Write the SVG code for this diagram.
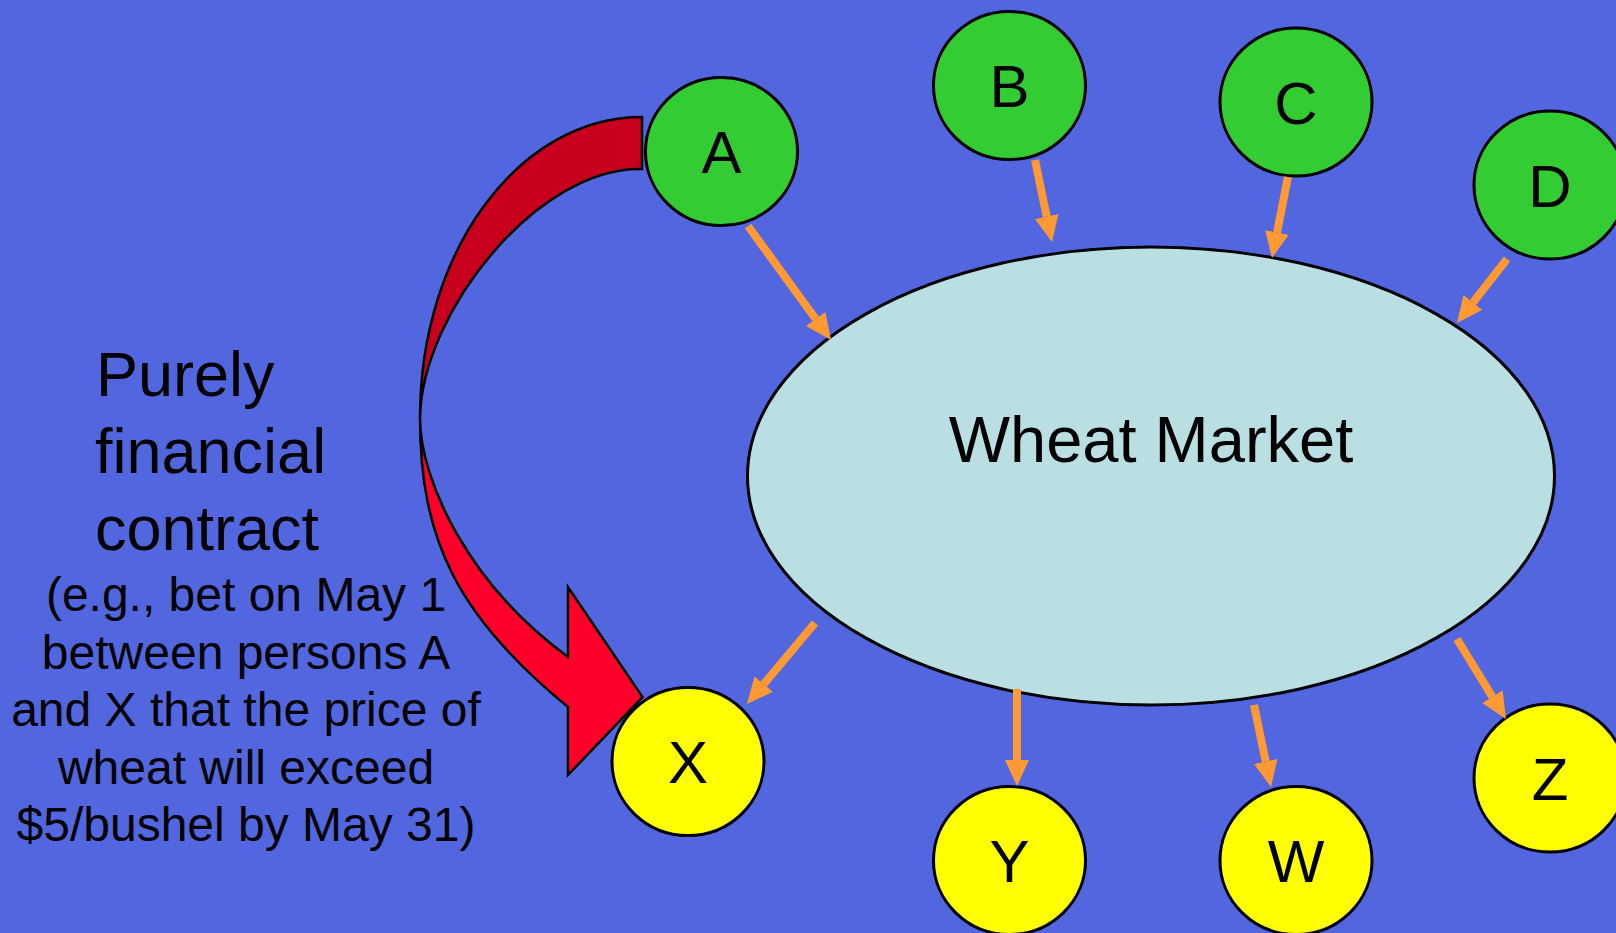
<svg xmlns="http://www.w3.org/2000/svg" width="1616" height="933" viewBox="0 0 1616 933">
<style>
.bg{fill:#5267DF}
.g{fill:#33CC33;stroke:#000;stroke-width:3}
.y{fill:#FFFF00;stroke:#000;stroke-width:3}
.lbl{font-family:"Liberation Sans",Arial,sans-serif;font-size:60px;fill:#000;text-anchor:middle}
.big{font-family:"Liberation Sans",Arial,sans-serif;font-size:63px;fill:#000}
.small{font-family:"Liberation Sans",Arial,sans-serif;font-size:48px;fill:#000;text-anchor:middle}
.con{stroke:#FF9933;stroke-width:8;fill:none;marker-end:url(#ah)}
</style>
<defs>
<marker id="ah" viewBox="0 0 26 24" refX="0" refY="12" markerUnits="userSpaceOnUse" markerWidth="26" markerHeight="24" orient="auto">
<path d="M0,0 L26,12 L0,24 Z" fill="#FF9933"/>
</marker>
</defs>
<rect class="bg" x="0" y="0" width="1616" height="933"/>
<g id="market">
<ellipse cx="1151" cy="476" rx="403.5" ry="229" fill="#B9DFE3" stroke="#000" stroke-width="3"/>
<text class="lbl" x="1151" y="462" style="font-size:65px">Wheat Market</text>
</g>
<g id="contract-arrow" stroke="#000" stroke-width="2.5" stroke-linejoin="miter">
<path d="M642,117 C519.5,117 420,250 420,418 C422,310 540,166 642,169 Z" fill="#C8001E"/>
<path d="M420,418 C420,480 468,584 568,657 L568,587 L642.5,697 L568,775 L568,707 C458,617 420,540 420,418 Z" fill="#FF002B"/>
</g>
<g id="node-A"><ellipse class="g" cx="721.5" cy="151.5" rx="76" ry="74"/><text class="lbl" x="721.5" y="173">A</text></g>
<g id="node-B"><ellipse class="g" cx="1009.5" cy="85.5" rx="76" ry="74"/><text class="lbl" x="1009.5" y="107">B</text></g>
<g id="node-C"><ellipse class="g" cx="1296" cy="102" rx="76" ry="74"/><text class="lbl" x="1296" y="124">C</text></g>
<g id="node-D"><ellipse class="g" cx="1550" cy="185" rx="76" ry="74"/><text class="lbl" x="1550" y="207">D</text></g>
<g id="node-X"><ellipse class="y" cx="688" cy="761.5" rx="76" ry="74"/><text class="lbl" x="688" y="783">X</text></g>
<g id="node-Y"><ellipse class="y" cx="1009.5" cy="860.5" rx="76" ry="74"/><text class="lbl" x="1009.5" y="882">Y</text></g>
<g id="node-W"><ellipse class="y" cx="1296" cy="860.5" rx="76" ry="74"/><text class="lbl" x="1296" y="882">W</text></g>
<g id="node-Z"><ellipse class="y" cx="1550" cy="778" rx="76" ry="74"/><text class="lbl" x="1550" y="800">Z</text></g>
<g id="connectors">
<line class="con" x1="748" y1="226" x2="815.7" y2="319"/>
<line class="con" x1="1035" y1="160" x2="1046.7" y2="216.5"/>
<line class="con" x1="1288" y1="177" x2="1277" y2="232.5"/>
<line class="con" x1="1507" y1="259" x2="1473" y2="302.5"/>
<line class="con" x1="815" y1="623" x2="763.7" y2="684.1"/>
<line class="con" x1="1017" y1="689" x2="1017" y2="760"/>
<line class="con" x1="1254" y1="705" x2="1265.7" y2="761.5"/>
<line class="con" x1="1457" y1="639" x2="1492.4" y2="696.8"/>
</g>
<g id="caption">
<text class="big" x="96" y="395.5">Purely</text>
<text class="big" x="95" y="472.5">financial</text>
<text class="big" x="95" y="549.5">contract</text>
<text class="small" x="246" y="611">(e.g., bet on May 1</text>
<text class="small" x="246" y="668.5">between persons A</text>
<text class="small" x="246" y="726">and X that the price of</text>
<text class="small" x="246" y="783.5">wheat will exceed</text>
<text class="small" x="246" y="841">$5/bushel by May 31)</text>
</g>
</svg>
